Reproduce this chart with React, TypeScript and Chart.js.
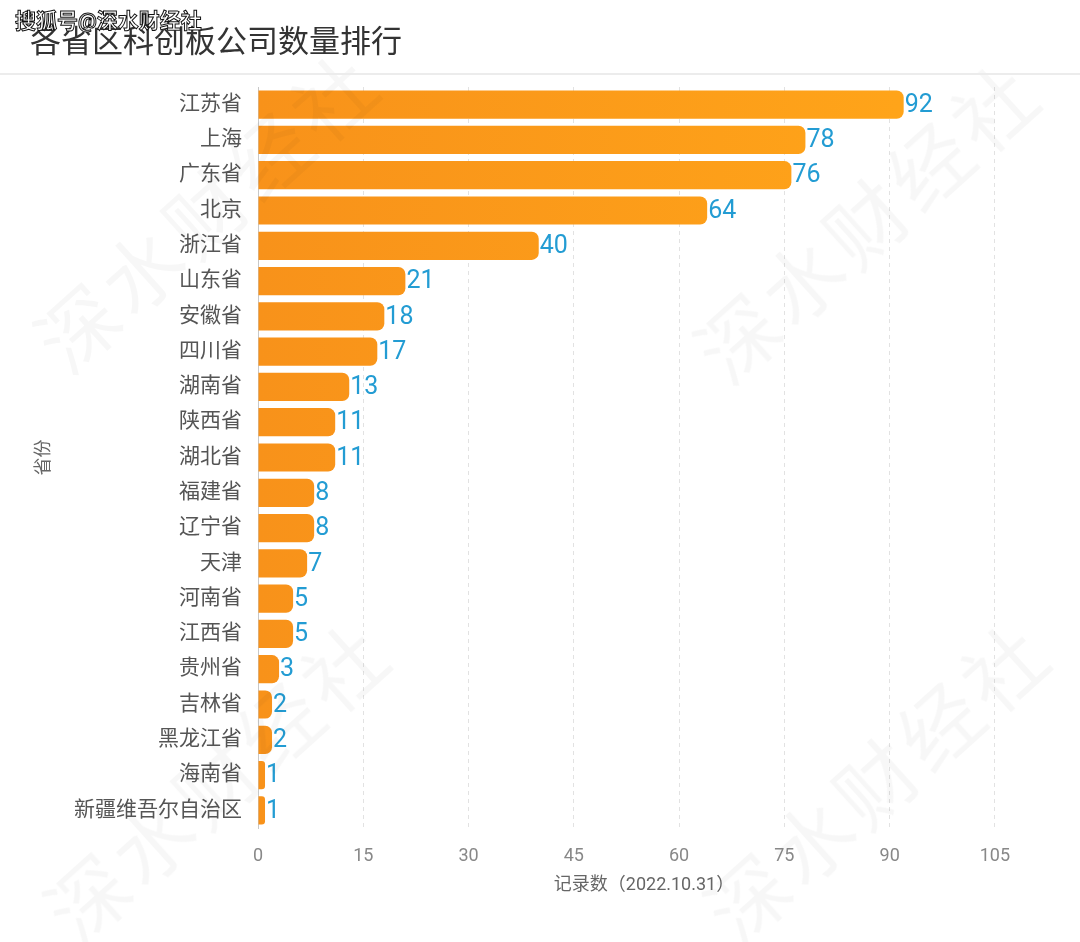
import React, { useEffect, useRef } from "react";
import { Chart, registerables } from "chart.js";

Chart.register(...registerables);

const provinces = [
  "江苏省", "上海", "广东省", "北京", "浙江省", "山东省", "安徽省", "四川省", "湖南省", "陕西省", "湖北省",
  "福建省", "辽宁省", "天津", "河南省", "江西省", "贵州省", "吉林省", "黑龙江省", "海南省", "新疆维吾尔自治区",
];
const counts = [92, 78, 76, 64, 40, 21, 18, 17, 13, 11, 11, 8, 8, 7, 5, 5, 3, 2, 2, 1, 1];
const xTicks = [0, 15, 30, 45, 60, 75, 90, 105];

const title = "各省区科创板公司数量排行";
const xTitle = "记录数（2022.10.31）";
const yTitle = "省份";
const sourceMark = "搜狐号@深水财经社";
const watermark = "深水财经社";

const FONT = "Roboto, 'Noto Sans CJK SC', sans-serif";

const labelPlugin = {
  id: "valueLabels",
  afterDatasetsDraw(chart: any) {
    const ctx = chart.ctx;
    const meta = chart.getDatasetMeta(0);
    ctx.save();
    ctx.fillStyle = "#239cd3";
    ctx.font = `25px ${FONT}`;
    ctx.textAlign = "left";
    ctx.textBaseline = "middle";
    meta.data.forEach((bar: any, i: number) => {
      ctx.fillText(String(counts[i]), bar.x + 1, bar.y + 1);
    });
    ctx.restore();
  },
};

export default function App() {
  const ref = useRef<HTMLCanvasElement>(null);
  useEffect(() => {
    const canvas = ref.current!;
    const chart = new Chart(canvas, {
      type: "bar",
      data: {
        labels: provinces,
        datasets: [
          {
            data: counts,
            backgroundColor: (c: any) => {
              const area = c.chart.chartArea;
              if (!area) return "#fb9a16";
              const g = c.chart.ctx.createLinearGradient(area.left, 0, area.left + 640, 0);
              g.addColorStop(0, "#f8921a");
              g.addColorStop(1, "#ffa419");
              return g;
            },
            borderRadius: 7,
            borderSkipped: "start",
            categoryPercentage: 0.8,
            barPercentage: 1,
          },
        ],
      },
      options: {
        indexAxis: "y",
        responsive: false,
        animation: false,
        maintainAspectRatio: false,
        layout: { padding: { left: 34, top: 87, right: 50, bottom: 34 } },
        plugins: { legend: { display: false }, tooltip: { enabled: false } },
        scales: {
          x: {
            min: 0,
            max: 110,
            afterBuildTicks: (s: any) => {
              s.ticks = xTicks.map((v) => ({ value: v }));
            },
            afterFit: (s: any) => {
              s.height = 80;
            },
            grid: { color: "#e2e2e2", drawTicks: false },
            border: { display: false, dash: [4, 4] },
            ticks: { color: "#888", font: { size: 18, family: FONT }, padding: 18 },
            title: {
              display: true,
              text: xTitle,
              color: "#666",
              font: { size: 18, family: FONT },
              padding: { top: 0, bottom: 12 },
            },
          },
          y: {
            afterFit: (s: any) => {
              s.width = 224;
            },
            grid: { display: false, drawTicks: false },
            border: { display: true, color: "#c8c8c8", width: 1 },
            ticks: { color: "#555", font: { size: 21, family: FONT }, padding: 16 },
            title: {
              display: true,
              text: yTitle,
              color: "#666",
              font: { size: 18, family: FONT },
              padding: { top: 0, bottom: 0 },
            },
          },
        },
      },
      plugins: [labelPlugin],
    } as any);
    return () => chart.destroy();
  }, []);

  const wm = [
    { left: -10, top: 150 },
    { left: 650, top: 160 },
    { left: 0, top: 720 },
    { left: 660, top: 720 },
  ];

  return (
    <div style={{ position: "fixed", left: 0, top: 0, width: 1080, height: 942, background: "#fff", overflow: "hidden", fontFamily: FONT }}>
      <canvas ref={ref} width={1080} height={942} style={{ position: "absolute", left: 0, top: 0 }} />
      {wm.map((p, i) => (
        <div
          key={i}
          style={{
            position: "absolute",
            left: p.left,
            top: p.top,
            fontSize: 80,
            color: "rgba(0,0,0,0.03)",
            transform: "rotate(-42deg)",
            transformOrigin: "center",
            whiteSpace: "nowrap",
            pointerEvents: "none",
            letterSpacing: 6,
          }}
        >
          {watermark}
        </div>
      ))}
      <div style={{ position: "absolute", left: 0, top: 73, width: 1080, height: 2, background: "#ececec" }} />
      <div style={{ position: "absolute", left: 30, top: 22, fontSize: 31, color: "#333", lineHeight: "40px" }}>{title}</div>
      <div
        style={{
          position: "absolute",
          left: 15,
          top: 8,
          fontSize: 21,
          fontWeight: "bold",
          color: "#fff",
          WebkitTextStroke: "1px #111",
          lineHeight: "26px",
          whiteSpace: "nowrap",
        }}
      >
        {sourceMark}
      </div>
    </div>
  );
}
